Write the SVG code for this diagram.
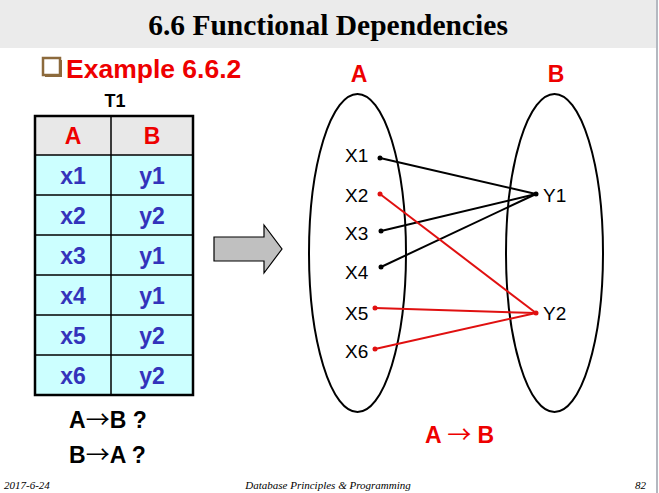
<svg xmlns="http://www.w3.org/2000/svg" width="659" height="493" viewBox="0 0 659 493">
<style>
.sans{font-family:"Liberation Sans",Arial,sans-serif}
.arr{font-family:"Noto Sans CJK SC","DejaVu Sans",sans-serif;font-weight:normal}
.cell{font-family:"Liberation Sans",Arial,sans-serif;font-weight:bold;font-size:23px;fill:#3333bb;text-anchor:middle}
.hdr{font-family:"Liberation Sans",Arial,sans-serif;font-weight:bold;font-size:23px;fill:#ee0000;text-anchor:middle}
.lbl{font-family:"Liberation Sans",Arial,sans-serif;font-size:19px;fill:#000}
.foot{font-family:"Liberation Serif","Times New Roman",serif;font-style:italic;font-size:11px;fill:#000}
.blk{stroke:#000;stroke-width:2;fill:none}
.red{stroke:#e01010;stroke-width:2;fill:none}
</style>
<rect width="659" height="493" fill="#fff"/>
<g id="title">
<rect x="0" y="0" width="657" height="48" fill="#ebebeb"/>
<text x="328" y="35" text-anchor="middle" font-family="Liberation Serif,'Times New Roman',serif" font-weight="bold" font-size="29.5" fill="#000">6.6 Functional Dependencies</text>
</g>
<rect x="656" y="0" width="2" height="493" fill="#b4b8c0"/>
<g id="example">
<rect x="45" y="60" width="17" height="17" fill="#8c6a3c"/>
<rect x="43" y="58" width="17" height="17" fill="#fff" stroke="#8c6a3c" stroke-width="2.5"/>
<text x="66" y="78" class="sans" font-weight="bold" font-size="26.5" fill="#ee0000">Example 6.6.2</text>
</g>
<g id="table">
<text x="115" y="107" class="sans" font-weight="bold" font-size="18" text-anchor="middle">T1</text>
<rect x="35" y="116" width="158" height="39" fill="#e8e8e8"/>
<rect x="35" y="155" width="158" height="240" fill="#ccffff"/>
<g stroke="#000" stroke-width="1.5">
<line x1="35" y1="155" x2="193" y2="155"/>
<line x1="35" y1="195" x2="193" y2="195"/>
<line x1="35" y1="235" x2="193" y2="235"/>
<line x1="35" y1="275" x2="193" y2="275"/>
<line x1="35" y1="315" x2="193" y2="315"/>
<line x1="35" y1="355" x2="193" y2="355"/>
<line x1="111" y1="116" x2="111" y2="395"/>
</g>
<rect x="35" y="116" width="158" height="279" fill="none" stroke="#000" stroke-width="2.5"/>
<text x="73" y="144" class="hdr">A</text><text x="152" y="144" class="hdr">B</text>
<text x="73" y="184" class="cell">x1</text><text x="152" y="184" class="cell">y1</text>
<text x="73" y="224" class="cell">x2</text><text x="152" y="224" class="cell">y2</text>
<text x="73" y="264" class="cell">x3</text><text x="152" y="264" class="cell">y1</text>
<text x="73" y="304" class="cell">x4</text><text x="152" y="304" class="cell">y1</text>
<text x="73" y="344" class="cell">x5</text><text x="152" y="344" class="cell">y2</text>
<text x="73" y="384" class="cell">x6</text><text x="152" y="384" class="cell">y2</text>
</g>
<g id="questions" class="sans" font-weight="bold" font-size="23">
<text x="69" y="428">A<tspan class="arr" font-size="24">→</tspan>B ?</text>
<text x="69" y="463">B<tspan class="arr" font-size="24">→</tspan>A ?</text>
</g>
<g id="bigarrow">
<polygon points="214,237 264,237 264,225 282,249 264,273 264,261 214,261" fill="#c0c0c0" stroke="#000" stroke-width="1.2"/>
</g>
<g id="setA">
<text x="359" y="82" text-anchor="middle" class="sans" font-weight="bold" font-size="23" fill="#ee0000">A</text>
<ellipse cx="357.5" cy="253" rx="48.5" ry="159" class="blk" stroke-width="1.8"/>
<text x="345" y="162" class="lbl">X1</text>
<text x="345" y="202" class="lbl">X2</text>
<text x="345" y="240" class="lbl">X3</text>
<text x="345" y="279" class="lbl">X4</text>
<text x="345" y="320" class="lbl">X5</text>
<text x="345" y="358" class="lbl">X6</text>
</g>
<g id="setB">
<text x="556" y="82" text-anchor="middle" class="sans" font-weight="bold" font-size="23" fill="#ee0000">B</text>
<ellipse cx="554.5" cy="253" rx="48.5" ry="159" class="blk" stroke-width="1.8"/>
<text x="543" y="202" class="lbl">Y1</text>
<text x="543" y="320" class="lbl">Y2</text>
</g>
<g id="connectors">
<line x1="380" y1="158" x2="536" y2="194" class="blk"/>
<line x1="381" y1="231" x2="536" y2="194" class="blk"/>
<line x1="381" y1="267" x2="536" y2="194" class="blk"/>
<line x1="380" y1="194" x2="536" y2="313" class="red"/>
<line x1="375" y1="308" x2="536" y2="313" class="red"/>
<line x1="375" y1="349" x2="536" y2="313" class="red"/>
<g fill="#000"><circle cx="380" cy="158" r="2.5"/><circle cx="381" cy="231" r="2.5"/><circle cx="381" cy="267" r="2.5"/><circle cx="536" cy="194" r="2.5"/></g>
<g fill="#e01010"><circle cx="380" cy="194" r="2.5"/><circle cx="375" cy="308" r="2.5"/><circle cx="375" cy="349" r="2.5"/><circle cx="536" cy="313" r="2.5"/></g>
</g>
<g id="result">
<text x="425" y="443" class="sans" font-weight="bold" font-size="23" fill="#ee0000">A <tspan class="arr" font-size="24">→</tspan> B</text>
</g>
<g id="footer">
<text x="4" y="489" class="foot">2017-6-24</text>
<text x="328" y="489" class="foot" text-anchor="middle">Database Principles &amp; Programming</text>
<text x="646" y="489" class="foot" text-anchor="end">82</text>
</g>
</svg>
